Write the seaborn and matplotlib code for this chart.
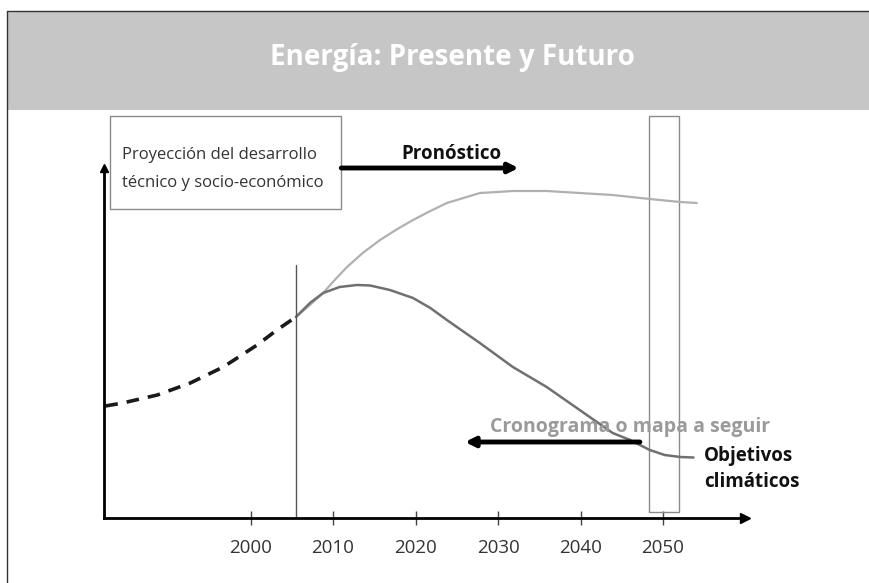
import seaborn as sns
import numpy as np
import pandas as pd
import matplotlib.pyplot as plt
from matplotlib.patches import Rectangle
from matplotlib.lines import Line2D

# data (value units are arbitrary, no y scale shown)
hist_years = [1982.4, 1984.5, 1988.7, 1992.7, 1996.7, 2000.8, 2003.2, 2005.5]
hist_vals = [112, 115, 123, 135, 151, 173, 188, 201]

forecast_years = [2005.5, 2007.2, 2008.8, 2010.2, 2011.7, 2013.6, 2015.7, 2017.8, 2019.7,
                  2021.8, 2023.8, 2025.8, 2027.8, 2029.9, 2031.8, 2035.9, 2039.9, 2043.9,
                  2048.4, 2052.1, 2054.1]
forecast_vals = [201, 213, 225, 238, 251, 265, 278, 289, 298, 307, 315, 320, 325, 326,
                 327, 327, 325, 323, 319, 316, 315]

target_years = [2005.5, 2007.2, 2008.8, 2010.8, 2012.9, 2014.5, 2016.9, 2019.7, 2021.8,
                2023.8, 2027.8, 2031.8, 2035.9, 2039.9, 2043.9, 2046.0, 2048.4, 2050.2,
                2052.1, 2053.7]
target_vals = [201, 215, 225, 231, 233, 232.5, 228, 220, 210, 198, 175, 151, 131, 108,
               85, 78, 68, 63, 61, 60.5]

tick_years = [2000, 2010, 2020, 2030, 2040, 2050]
present_year = 2005.5
goal_year = 2050

title = "Energía: Presente y Futuro"
box_lines = ["Proyección del desarrollo", "técnico y socio-económico"]
forecast_label = "Pronóstico"
roadmap_label = "Cronograma o mapa a seguir"
goal_lines = ["Objetivos", "climáticos"]

sns.set_theme(style="white")
plt.rcParams['font.family'] = ['Open Sans', 'DejaVu Sans']

fig = plt.figure(figsize=(8.69, 5.83), dpi=100)
W, H = 869, 583

# header band + frame
fig.add_artist(Rectangle((8 / W, 1 - 110 / H), 1 - 8 / W, 98 / H,
                         transform=fig.transFigure, facecolor='#c6c6c6', edgecolor='none'))
fig.add_artist(Line2D([7 / W, 1], [1 - 11 / H, 1 - 11 / H], transform=fig.transFigure,
                      color='#333333', lw=1))
fig.add_artist(Line2D([7 / W, 7 / W], [0, 1 - 11 / H], transform=fig.transFigure,
                      color='#333333', lw=1))
fig.text(452 / W, 1 - 57 / H, title, color='white', fontsize=20, fontweight='bold',
         ha='center', va='center')

ax = fig.add_axes([104 / W, 65 / H, 641 / W, 350 / H])
ax.set_facecolor('none')

hist = pd.DataFrame({'year': hist_years, 'value': hist_vals})
fc = pd.DataFrame({'year': forecast_years, 'value': forecast_vals})
tg = pd.DataFrame({'year': target_years, 'value': target_vals})

sns.lineplot(data=hist, x='year', y='value', ax=ax, color='#1a1a1a', lw=2.6)
ax.lines[-1].set_dashes([3.5, 2.5])
sns.lineplot(data=fc, x='year', y='value', ax=ax, color='#b0b0b0', lw=1.6)
sns.lineplot(data=tg, x='year', y='value', ax=ax, color='#707070', lw=1.8)

ax.set_xlim(1982.24, 2059.94)
ax.set_ylim(0, 350)

# present-day marker line and 2050 goal window
ax.plot([present_year, present_year], [0, 253], color='#555555', lw=1)
ax.add_patch(Rectangle((goal_year - 1.7, 6), 3.64, 396, facecolor='none',
                       edgecolor='#8a8a8a', lw=1, clip_on=False))

# box with projection text
ax.add_patch(Rectangle((1982.97, 309), 28.0, 93, facecolor='white',
                       edgecolor='#8a8a8a', lw=1, clip_on=False))
ax.text(1984.4, 363, box_lines[0], fontsize=12, color='#333333', va='center')
ax.text(1984.4, 335, box_lines[1], fontsize=12, color='#333333', va='center')

ax.text(2024.3, 364, forecast_label, fontsize=13.5, fontweight='bold', color='#111111',
        ha='center', va='center')
ax.annotate('', xy=(2032.5, 350), xytext=(2011.0, 350), annotation_clip=False,
            arrowprops=dict(arrowstyle='-|>', lw=3.5, color='black', mutation_scale=14,
                            shrinkA=0, shrinkB=0))

ax.text(2029.0, 91, roadmap_label, fontsize=14, fontweight='bold', color='#9a9a9a',
        ha='left', va='center')
ax.annotate('', xy=(2026.0, 76), xytext=(2047.2, 76), annotation_clip=False,
            arrowprops=dict(arrowstyle='-|>', lw=3.5, color='black', mutation_scale=14,
                            shrinkA=0, shrinkB=0))

ax.text(2055.0, 62, goal_lines[0], fontsize=13.5, fontweight='bold', color='#111111',
        va='center', clip_on=False)
ax.text(2055.0, 36, goal_lines[1], fontsize=13.5, fontweight='bold', color='#111111',
        va='center', clip_on=False)

# axes with arrow heads
sns.despine(ax=ax, top=True, right=True)
for side in ['left', 'bottom']:
    ax.spines[side].set_color('black')
    ax.spines[side].set_linewidth(2)
ax.plot(1, 0, '>', color='black', markersize=7, transform=ax.transAxes, clip_on=False)
ax.plot(0, 1, '^', color='black', markersize=6, transform=ax.transAxes, clip_on=False)

ax.set_xticks(tick_years)
ax.set_xticklabels([str(y) for y in tick_years])
ax.set_yticks([])
ax.tick_params(axis='x', direction='inout', length=10, width=1, color='#444444',
               labelsize=13.5, labelcolor='#333333', pad=10, bottom=True)
ax.set_xlabel('')
ax.set_ylabel('')
ax.grid(False)

fig.savefig('out.png', dpi=100)
